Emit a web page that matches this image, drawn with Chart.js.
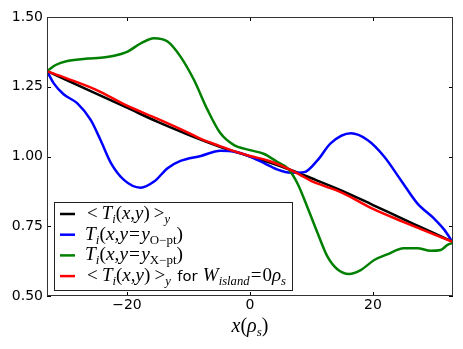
<!DOCTYPE html>
<html>
<head>
<meta charset="utf-8">
<script src="https://cdn.jsdelivr.net/npm/chart.js@4.4.1/dist/chart.umd.min.js"></script>
<style>
  html, body { margin: 0; padding: 0; background: #fff; }
</style>
</head>
<body>
<canvas id="profileChart" width="463" height="349"></canvas>
<script>
// <T_i(x,y)>_y with island, and for W_island = 0
const avgX = [-33, -30, -25, -20, -15, -10, -5, 0, 5, 10, 15, 20, 25, 30, 33];
const avgT = [1.306, 1.276, 1.225, 1.175, 1.124, 1.078, 1.036, 1.0, 0.965, 0.922, 0.877, 0.826, 0.775, 0.724, 0.694];

const noIslandX = [-33, -30, -25, -20, -15, -10, -8, -5, -3, 0, 3, 5, 8, 10, 12, 15, 20, 25, 30, 33];
const noIslandT = [1.306, 1.282, 1.239, 1.182, 1.135, 1.085, 1.063, 1.038, 1.022, 1.002, 0.985, 0.968, 0.936, 0.912, 0.895, 0.870, 0.812, 0.765, 0.720, 0.694];

// cut through the O-point
const oPtX = [-33, -31.9, -30.3, -28.1, -25.9, -24.3, -22.6, -20.5, -17.8, -15.6, -13.4, -11.3, -8.0, -4.8, -2.6, 0,
              2.3, 4.4, 6.6, 8.8, 11.0, 13.1, 16.4, 19.1, 21.8, 24.5, 27.2, 29.9, 31.6, 33];
const oPtT = [1.306, 1.262, 1.223, 1.191, 1.131, 1.059, 0.976, 0.916, 0.888, 0.910, 0.958, 0.984, 1.002, 1.021, 1.018, 1.0,
              0.976, 0.954, 0.942, 0.944, 0.987, 1.047, 1.083, 1.059, 1.0, 0.916, 0.832, 0.778, 0.737, 0.691];

// cut through the X-point
const xPtX = [-33, -31.6, -29.7, -26.4, -24.3, -22.1, -19.9, -17.8, -15.6, -13.4, -11.3, -9.1, -6.9, -4.8, -2.6, 0,
              2.3, 4.4, 6.1, 7.7, 9.3, 11.0, 12.6, 14.2, 16.1, 18.0, 20.2, 22.3, 25.0, 27.2, 29.4, 31.0, 32.1, 33];
const xPtT = [1.306, 1.328, 1.342, 1.351, 1.354, 1.361, 1.376, 1.405, 1.424, 1.412, 1.358, 1.274, 1.167, 1.083, 1.041, 1.023,
              1.009, 0.981, 0.958, 0.904, 0.820, 0.725, 0.641, 0.596, 0.579, 0.593, 0.629, 0.649, 0.671, 0.671, 0.662, 0.665, 0.683, 0.691];

const xTicks = [-20, 0, 20];
const yTicks = [0.5, 0.75, 1.0, 1.25, 1.5];

const pts = (xs, ys) => xs.map((x, i) => ({ x: x, y: ys[i] }));

const mathIt = 'italic 18px "Liberation Serif"';
const mathRm = '18px "Liberation Serif"';
const subIt = 'italic 12px "Liberation Serif"';
const subRm = '12px "Liberation Serif"';
const sans = '14px "DejaVu Sans"';

// text pieces for the legend (mathtext-like)
const avgRuns = [
    { t: '<', f: mathRm }, { gap: 4 }, { t: 'T', f: mathIt }, { t: 'i', f: subIt, dy: 4 },
    { t: '(', f: mathRm }, { t: 'x', f: mathIt }, { t: ',', f: mathRm }, { t: 'y', f: mathIt },
    { t: ')', f: mathRm }, { gap: 4 }, { t: '>', f: mathRm }, { t: 'y', f: subIt, dy: 4 }
];
const cutRuns = pt => [
    { t: 'T', f: mathIt }, { t: 'i', f: subIt, dy: 4 }, { t: '(', f: mathRm }, { t: 'x', f: mathIt },
    { t: ',', f: mathRm }, { t: 'y', f: mathIt }, { gap: 1 }, { t: '=', f: mathRm }, { gap: 1 },
    { t: 'y', f: mathIt }, { t: pt + '\u2212pt', f: subRm, dy: 4 }, { t: ')', f: mathRm }
];
// x0 / x1: where each legend entry starts and ends in the figure
const legendItems = [
    { color: '#000000', runs: avgRuns, x0: 87, x1: 170 },
    { color: '#0000ff', runs: cutRuns('O'), x0: 85, x1: 183 },
    { color: '#008000', runs: cutRuns('X'), x0: 85, x1: 183 },
    { color: '#ff0000', x0: 87, x1: 286, runs: avgRuns.concat([
        { gap: 6 }, { t: 'for', f: sans }, { gap: 5 }, { t: 'W', f: mathIt }, { t: 'island', f: subIt, dy: 4 },
        { gap: 1 }, { t: '=', f: mathRm }, { gap: 1 }, { t: '0', f: mathRm }, { t: '\u03c1', f: mathIt }, { t: 's', f: subIt, dy: 4 }
    ]) }
];
const xLabelRuns = [
    { t: 'x', f: 'italic 20px "Liberation Serif"' }, { t: '(', f: '20px "Liberation Serif"' },
    { t: '\u03c1', f: 'italic 20px "Liberation Serif"' }, { t: 's', f: 'italic 13px "Liberation Serif"', dy: 4 },
    { t: ')', f: '20px "Liberation Serif"' }
];

function drawRuns(ctx, runs, x, y) {
    runs.forEach(r => {
        if (r.gap) { x += r.gap; return; }
        ctx.font = r.f;
        ctx.fillText(r.t, x, y + (r.dy || 0));
        x += ctx.measureText(r.t).width;
    });
    return x;
}

function runsWidth(ctx, runs) {
    let w = 0;
    runs.forEach(r => {
        if (r.gap) { w += r.gap; return; }
        ctx.font = r.f;
        w += ctx.measureText(r.t).width;
    });
    return w;
}

// squeeze/stretch a run of text so it spans x0..x1
function fitRuns(ctx, runs, x0, x1, y) {
    const k = (x1 - x0) / runsWidth(ctx, runs);
    ctx.save();
    ctx.translate(x0, y);
    ctx.scale(k, 1);
    drawRuns(ctx, runs, 0, 0);
    ctx.restore();
}

// frame, inward ticks, legend box and x label
const decorations = {
    id: 'decorations',
    afterDatasetsDraw(chart) {
        const ctx = chart.ctx;
        const a = chart.chartArea;
        const xs = chart.scales.x, ys = chart.scales.y;
        ctx.save();
        ctx.strokeStyle = '#000';
        ctx.lineWidth = 1;
        ctx.beginPath();
        xTicks.forEach(v => {
            const px = Math.round(xs.getPixelForValue(v)) + 0.5;
            ctx.moveTo(px, a.bottom); ctx.lineTo(px, a.bottom - 4);
            ctx.moveTo(px, a.top); ctx.lineTo(px, a.top + 4);
        });
        yTicks.forEach(v => {
            const py = Math.round(ys.getPixelForValue(v)) + 0.5;
            ctx.moveTo(a.left, py); ctx.lineTo(a.left + 4, py);
            ctx.moveTo(a.right, py); ctx.lineTo(a.right - 4, py);
        });
        ctx.stroke();
        ctx.strokeStyle = '#333';
        ctx.strokeRect(Math.round(a.left) + 0.5, Math.round(a.top) + 0.5,
                       Math.round(a.right - a.left) - 1, Math.round(a.bottom - a.top) - 1);

        // legend
        const bx = 54.5, by = 202.5, bw = 238, bh = 88;
        ctx.fillStyle = '#fff';
        ctx.fillRect(bx, by, bw, bh);
        ctx.strokeStyle = '#222';
        ctx.strokeRect(bx, by, bw, bh);
        ctx.textBaseline = 'alphabetic';
        ctx.textAlign = 'left';
        legendItems.forEach((it, i) => {
            const rowY = 214 + i * 20.7;
            ctx.strokeStyle = it.color;
            ctx.lineWidth = 2.5;
            ctx.beginPath();
            ctx.moveTo(60, rowY); ctx.lineTo(75, rowY);
            ctx.stroke();
            ctx.fillStyle = '#000';
            fitRuns(ctx, it.runs, it.x0, it.x1, rowY + 5);
        });

        // x axis label
        const cx = (a.left + a.right) / 2;
        const w = runsWidth(ctx, xLabelRuns);
        drawRuns(ctx, xLabelRuns, cx - w / 2, 332);
        ctx.restore();
    }
};

const ctx = document.getElementById('profileChart').getContext('2d');
const profileChart = new Chart(ctx, {
    type: 'line',
    data: {
        datasets: [
            { label: '<Ti(x,y)>y', data: pts(avgX, avgT), borderColor: '#000000', order: 3 },
            { label: 'Ti(x,y=yO-pt)', data: pts(oPtX, oPtT), borderColor: '#0000ff', order: 2 },
            { label: 'Ti(x,y=yX-pt)', data: pts(xPtX, xPtT), borderColor: '#008000', order: 1 },
            { label: '<Ti(x,y)>y for Wisland=0', data: pts(noIslandX, noIslandT), borderColor: '#ff0000', order: 0 }
        ]
    },
    options: {
        responsive: false,
        animation: false,
        layout: { padding: { top: 17, right: 10, left: 0, bottom: 0 } },
        elements: {
            point: { radius: 0 },
            line: { borderWidth: 2.5, fill: false, cubicInterpolationMode: 'monotone' }
        },
        plugins: {
            legend: { display: false },
            tooltip: { enabled: false }
        },
        scales: {
            x: {
                type: 'linear',
                min: -33,
                max: 33,
                grid: { display: false, drawTicks: false },
                border: { display: false },
                afterBuildTicks: s => { s.ticks = xTicks.map(v => ({ value: v })); },
                afterFit: s => { s.height = 53; },
                ticks: {
                    padding: 1,
                    color: '#000',
                    font: { family: 'DejaVu Sans', size: 14 },
                    callback: v => String(v).replace('-', '\u2212')
                }
            },
            y: {
                min: 0.5,
                max: 1.5,
                grid: { display: false, drawTicks: false },
                border: { display: false },
                afterBuildTicks: s => { s.ticks = yTicks.map(v => ({ value: v })); },
                afterFit: s => { s.width = 47; },
                ticks: {
                    padding: 4,
                    color: '#000',
                    font: { family: 'DejaVu Sans', size: 14 },
                    callback: v => v.toFixed(2)
                }
            }
        }
    },
    plugins: [decorations]
});
</script>
</body>
</html>
